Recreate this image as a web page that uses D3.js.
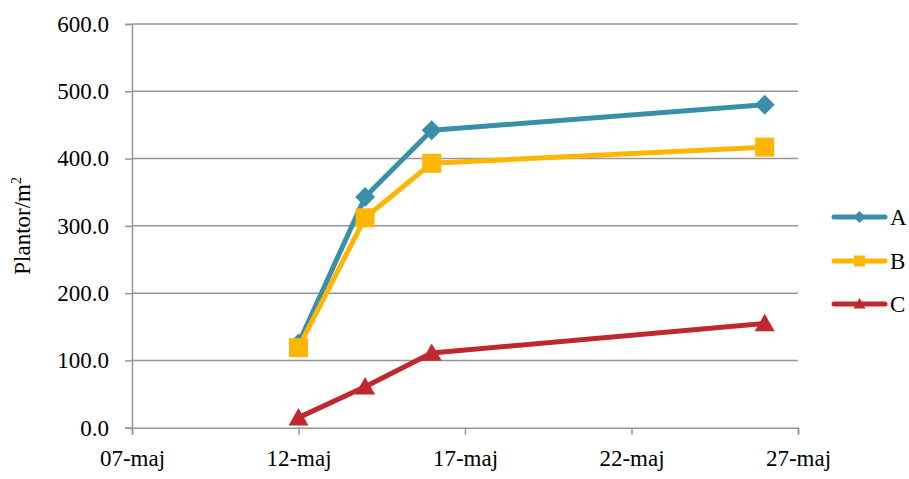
<!DOCTYPE html>
<html><head><meta charset="utf-8">
<script src="https://cdn.jsdelivr.net/npm/d3@7"></script>
</head>
<body style="margin:0;background:#fff">
<svg id="c" width="909" height="479" style="font-family:'Liberation Serif'"></svg>
<script>
const days = [12, 14, 16, 26];          // day of May
const seriesA = [125, 343, 442, 480];
const seriesB = [119, 312, 393, 417];
const seriesC = [15, 61, 111, 155];
const seriesNames = ["A", "B", "C"];
const xTickDays = [7, 12, 17, 22, 27];
const xTickLabels = ["07-maj", "12-maj", "17-maj", "22-maj", "27-maj"];
const yTicks = [0, 100, 200, 300, 400, 500, 600];
const yTitle = "Plantor/m";

const colors = ["#3A8FA8", "#FFB504", "#C0282D"];
const FONT = "'Liberation Serif'";

const svg = d3.select("#c");
const L = 132, R = 798, T = 24, B = 427.7;
const x = d3.scaleLinear().domain([7, 27]).range([L, R]);
const y = d3.scaleLinear().domain([0, 600]).range([B, T]);
const fs = 23;
const grid = "#969696";

function marker(sel, si, s) {
  if (si === 0) sel.attr("d", d3.symbol().type(d3.symbolSquare).size(s * s / 2)).attr("transform", sel.attr("transform") + " rotate(45)");
  else if (si === 1) sel.attr("d", d3.symbol().type(d3.symbolSquare).size(s * s));
  else sel.attr("d", d3.symbol().type(d3.symbolTriangle).size(s * s * 0.433));
}

// gridlines
svg.append("g").selectAll("line").data(yTicks.filter(d => d > 0)).join("line")
  .attr("x1", L).attr("x2", R).attr("y1", d => y(d)).attr("y2", d => y(d))
  .attr("stroke", grid).attr("stroke-width", 1.5);

// y axis
const yAxis = d3.axisLeft(y).tickValues(yTicks).tickSize(7).tickPadding(16)
  .tickFormat(d => d3.format(".1f")(d));
const gy = svg.append("g").attr("transform", `translate(${L},0)`).call(yAxis)
  .attr("font-family", null).attr("font-size", null);
gy.select(".domain").attr("stroke", grid).attr("stroke-width", 1.5);
gy.selectAll(".tick line").attr("stroke", grid).attr("stroke-width", 1.5);
gy.selectAll("text").style("font-size", fs + "px").style("font-family", FONT).attr("fill", "#000");

// x axis
const xAxis = d3.axisBottom(x).tickValues(xTickDays).tickSize(7).tickPadding(15)
  .tickFormat((d, i) => xTickLabels[i]);
const gx = svg.append("g").attr("transform", `translate(0,${B})`).call(xAxis)
  .attr("font-family", null).attr("font-size", null);
gx.select(".domain").attr("stroke", grid).attr("stroke-width", 1.5);
gx.selectAll(".tick line").attr("stroke", grid).attr("stroke-width", 1.5);
gx.selectAll("text").style("font-size", fs + "px").style("font-family", FONT).attr("fill", "#000");

// y title
const yt = svg.append("text").attr("transform", `translate(30,${(T + B) / 2}) rotate(-90)`)
  .attr("text-anchor", "middle").style("font-size", fs + "px").style("font-family", FONT);
yt.append("tspan").text(yTitle);
yt.append("tspan").style("font-size", Math.round(fs * 0.62) + "px").attr("dy", -9).text("2");

// series
const all = [seriesA, seriesB, seriesC];
const msz = [20, 19, 20];
all.forEach((vals, si) => {
  const pts = days.map((d, i) => [x(d), y(vals[i])]);
  svg.append("path").attr("d", d3.line()(pts)).attr("fill", "none")
    .attr("stroke", colors[si]).attr("stroke-width", 5).attr("stroke-linejoin", "round");
  svg.append("g").selectAll("path").data(pts).join("path")
    .attr("fill", colors[si])
    .attr("transform", p => `translate(${p[0]},${p[1] + (si === 2 ? 2 : 0)})`)
    .each(function () { marker(d3.select(this), si, msz[si]); });
});

// legend
const legY = [217, 261, 304];
seriesNames.forEach((n, i) => {
  const g = svg.append("g");
  g.append("line").attr("x1", 834).attr("x2", 885).attr("y1", legY[i]).attr("y2", legY[i])
    .attr("stroke", colors[i]).attr("stroke-width", 5).attr("stroke-linecap", "round");
  const m = g.append("path").attr("fill", colors[i])
    .attr("transform", `translate(859.5,${legY[i] + (i === 2 ? 1 : 0)})`);
  marker(m, i, [12, 11, 12][i]);
  g.append("text").attr("x", 890).attr("y", legY[i]).attr("dy", "0.35em")
    .style("font-size", fs + "px").style("font-family", FONT).text(n);
});
</script></body></html>
